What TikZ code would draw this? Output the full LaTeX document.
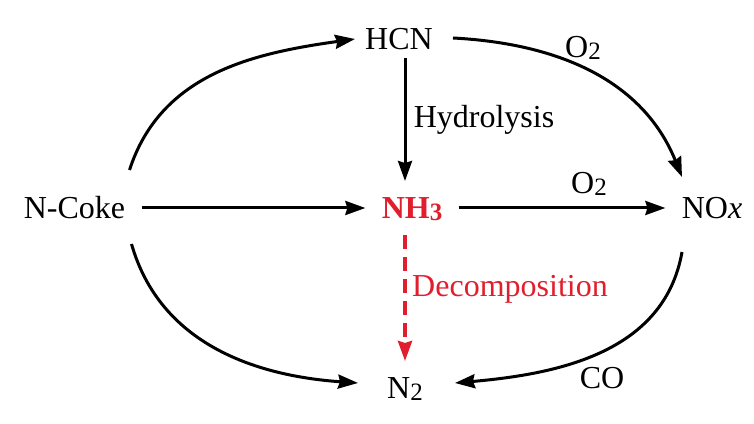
\documentclass[tikz,border=0pt]{standalone}
\usepackage{fontspec}
\setmainfont{Liberation Serif}
\usetikzlibrary{arrows.meta}
\definecolor{nred}{RGB}{225,30,45}
\newcommand{\dn}[1]{\raisebox{-1pt}{\fontsize{12.5}{14}\selectfont #1}}

\begin{document}
\begin{tikzpicture}[x=0.5pt,y=0.5pt,
    every node/.style={font=\fontsize{16}{19}\selectfont,text height=10.6pt,text depth=0pt,inner sep=8pt},
    flow/.style={line width=1.5pt,-{Stealth[length=10pt,width=7pt,inset=1pt]}},
    decomp/.style={flow,nred,line width=1.8pt,dash pattern=on 7pt off 4pt}]
    \useasboundingbox (0,0) rectangle (754,423);
    % species
    \node (hcn) at (399,384) {HCN};
    \node (ncoke) at (74.5,215) {N-Coke};
    \node[text=nred] (nh3) at (412,215) {\textbf{NH\dn{3}}};
    \node (nox) at (712,215) {NO\textit{x}};
    \node (n2) at (405,35) {N\dn{2}};
    % pathways
    \draw[flow] ([shift={(55,38)}]ncoke.center) to[out=72,in=188] ([shift={(-44,0)}]hcn.center);
    \draw[flow] ([shift={(54,1)}]hcn.center) to[out=-3,in=112] ([shift={(-30,31)}]nox.center);
    \draw[flow] ([shift={(57,-36)}]ncoke.center) to[out=-74,in=176] ([shift={(-47,5)}]n2.center);
    \draw[flow] ([shift={(-30,-44)}]nox.center) to[out=-100,in=5] ([shift={(50,5)}]n2.center);
    \draw[flow,shorten <=-4pt] (hcn.south -| n2) -- (nh3.north -| n2);
    \draw[flow] (ncoke.east) -- (nh3.west);
    \draw[flow] (nh3.east) -- (nox.west);
    \draw[decomp] (nh3.south -| n2) -- (n2.north);
    % labels
    \node (hydro) at (484,306) {Hydrolysis};
    \node (otop) at (583,376) {O\dn{2}};
    \node (omid) at (589,240) {O\dn{2}};
    \node[text=nred] (dec) at (510,137) {Decomposition};
    \node (co) at (602,45) {CO};
\end{tikzpicture}
\end{document}
